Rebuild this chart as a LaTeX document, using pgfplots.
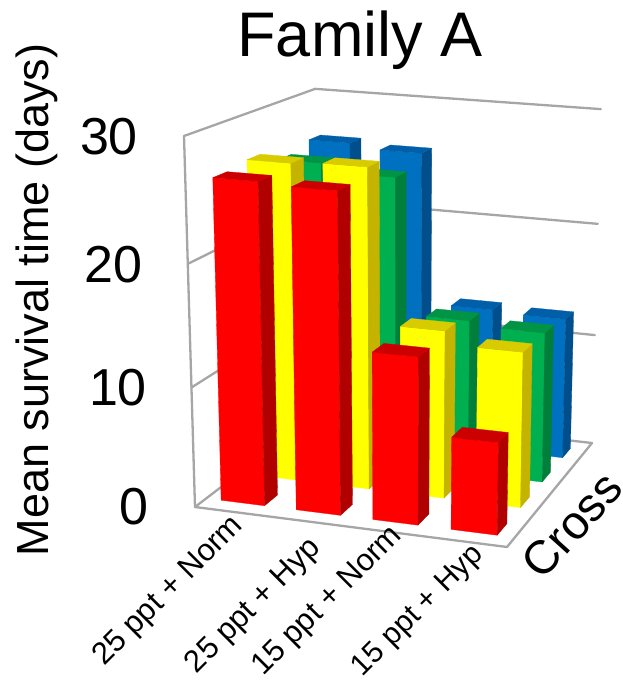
\documentclass[border=0pt]{standalone}
\usepackage{pgfplots}
\pgfplotsset{compat=1.18}
\usepackage{fontspec}
\setmainfont{Liberation Sans}

% Projection of chart space (X along categories, Y along crosses, Z = days/30) to the canvas
\newcommand\projW[3]{(1-0.04022*(#1)+0.15538*(#2)-0.05*(#3))}
\newcommand\projX[3]{((291.61*(#1)+173.57*(#2)+195-20.2*(#3))/\projW{#1}{#2}{#3})}
\newcommand\projY[3]{((18.0*(#1)-30.98*(#2)+507-377.8*(#3))/\projW{#1}{#2}{#3})}

\def\bw{0.145}
\def\bd{0.10}

% One wall or floor line between two chart-space points
\newcommand\gridline[6]{%
  \addplot[draw=gridgray,line width=2.3pt,line cap=round,line join=round] table[row sep=\\,
    x expr={\projX{#1+(#4-(#1))*\thisrow{t}}{#2+(#5-(#2))*\thisrow{t}}{#3+(#6-(#3))*\thisrow{t}}},
    y expr={\projY{#1+(#4-(#1))*\thisrow{t}}{#2+(#5-(#2))*\thisrow{t}}{#3+(#6-(#3))*\thisrow{t}}}]
    {t\\0\\1\\};}

% One face of a bar: corner offsets in the table, bar position and height as arguments
\newcommand\barface[5]{%
  \addplot[fill=#4,draw=#4,line width=0.3pt,line join=round] table[row sep=\\,
    x expr={\projX{#1+\bw*\thisrow{a}}{#2+\bd*\thisrow{b}}{#3/30*\thisrow{c}}},
    y expr={\projY{#1+\bw*\thisrow{a}}{#2+\bd*\thisrow{b}}{#3/30*\thisrow{c}}}]
    {#5};}

% A bar: front, right side and top, at column #1, row #2, #3 days tall
\newcommand\threedbar[4]{%
  \barface{#1}{#2}{#3}{#4front}{a b c\\0 0 0\\1 0 0\\1 0 1\\0 0 1\\0 0 0\\}
  \barface{#1}{#2}{#3}{#4side}{a b c\\1 0 0\\1 1 0\\1 1 1\\1 0 1\\1 0 0\\}
  \barface{#1}{#2}{#3}{#4top}{a b c\\0 0 1\\1 0 1\\1 1 1\\0 1 1\\0 0 1\\}}

\definecolor{gridgray}{HTML}{A6A6A6}
\definecolor{redfront}{HTML}{FF0000}
\definecolor{redside}{HTML}{B00000}
\definecolor{redtop}{HTML}{CC0000}
\definecolor{yelfront}{HTML}{FFFF00}
\definecolor{yelside}{HTML}{C4B400}
\definecolor{yeltop}{HTML}{D8CC00}
\definecolor{grnfront}{HTML}{00B050}
\definecolor{grnside}{HTML}{007F3A}
\definecolor{grntop}{HTML}{009444}
\definecolor{blufront}{HTML}{0070C0}
\definecolor{bluside}{HTML}{004F8C}
\definecolor{blutop}{HTML}{005FA8}

\begin{document}
\begin{tikzpicture}
\begin{axis}[
  width=623pt,height=680pt,scale only axis,
  xmin=0,xmax=623,ymin=0,ymax=680,y dir=reverse,
  hide axis,clip=false]

% walls and floor
\gridline{0}{0}{0}{1}{0}{0}
\gridline{1}{0}{0}{1}{1}{0}
\gridline{0}{0}{0}{0}{1}{0}
\gridline{0}{1}{0}{1}{1}{0}
\gridline{0}{0}{0}{0}{0}{1}
\gridline{0}{0}{0.33333}{0}{1}{0.33333}
\gridline{0}{1}{0.33333}{1}{1}{0.33333}
\gridline{0}{0}{0.66667}{0}{1}{0.66667}
\gridline{0}{1}{0.66667}{1}{1}{0.66667}
\gridline{0}{0}{1}{0}{1}{1}
\gridline{0}{1}{1}{1}{1}{1}

% rows of bars, farthest first
\threedbar{0.05}{0.82}{26.3}{blu}
\threedbar{0.30}{0.82}{25.9}{blu}
\threedbar{0.55}{0.82}{12.7}{blu}
\threedbar{0.80}{0.82}{12.5}{blu}

\threedbar{0.05}{0.57}{25.7}{grn}
\threedbar{0.30}{0.57}{25.0}{grn}
\threedbar{0.55}{0.57}{13.4}{grn}
\threedbar{0.80}{0.57}{13.0}{grn}

\threedbar{0.05}{0.325}{26.8}{yel}
\threedbar{0.30}{0.325}{27.0}{yel}
\threedbar{0.55}{0.325}{14.2}{yel}
\threedbar{0.80}{0.325}{13.1}{yel}

\threedbar{0.05}{0.08}{26.5}{red}
\threedbar{0.30}{0.08}{26.3}{red}
\threedbar{0.55}{0.08}{13.8}{red}
\threedbar{0.80}{0.08}{7.6}{red}

% title, value ticks and axis names
\node[font=\fontsize{63}{63}\selectfont,inner sep=0pt] at (axis cs:360,40) {Family A};
\node[font=\fontsize{52}{52}\selectfont,inner sep=0pt] at (axis cs:109,137) {30};
\node[font=\fontsize{52}{52}\selectfont,inner sep=0pt] at (axis cs:113.5,265) {20};
\node[font=\fontsize{52}{52}\selectfont,inner sep=0pt] at (axis cs:118,388) {10};
\node[font=\fontsize{52}{52}\selectfont,inner sep=0pt] at (axis cs:134,507) {0};
\node[font=\fontsize{45}{45}\selectfont,rotate=90,inner sep=0pt] at (axis cs:37,300) {Mean survival time (days)};
\node[font=\fontsize{47}{47}\selectfont,rotate=48,inner sep=0pt] at (axis cs:572,525) {Cross};
\node[font=\fontsize{31}{31}\selectfont,rotate=45,anchor=base east,inner sep=0pt] at (axis cs:244,527) {25 ppt + Norm};
\node[font=\fontsize{31}{31}\selectfont,rotate=45,anchor=base east,inner sep=0pt] at (axis cs:322,549) {25 ppt + Hyp};
\node[font=\fontsize{31}{31}\selectfont,rotate=45,anchor=base east,inner sep=0pt] at (axis cs:403,537) {15 ppt + Norm};
\node[font=\fontsize{30}{30}\selectfont,rotate=45,anchor=base east,inner sep=0pt] at (axis cs:484,556) {15 ppt + Hyp};
\end{axis}
% the page is the canvas, whatever the rotated label boxes cover
\pgfresetboundingbox
\useasboundingbox (0,0) rectangle (623pt,680pt);
\end{tikzpicture}
\end{document}
